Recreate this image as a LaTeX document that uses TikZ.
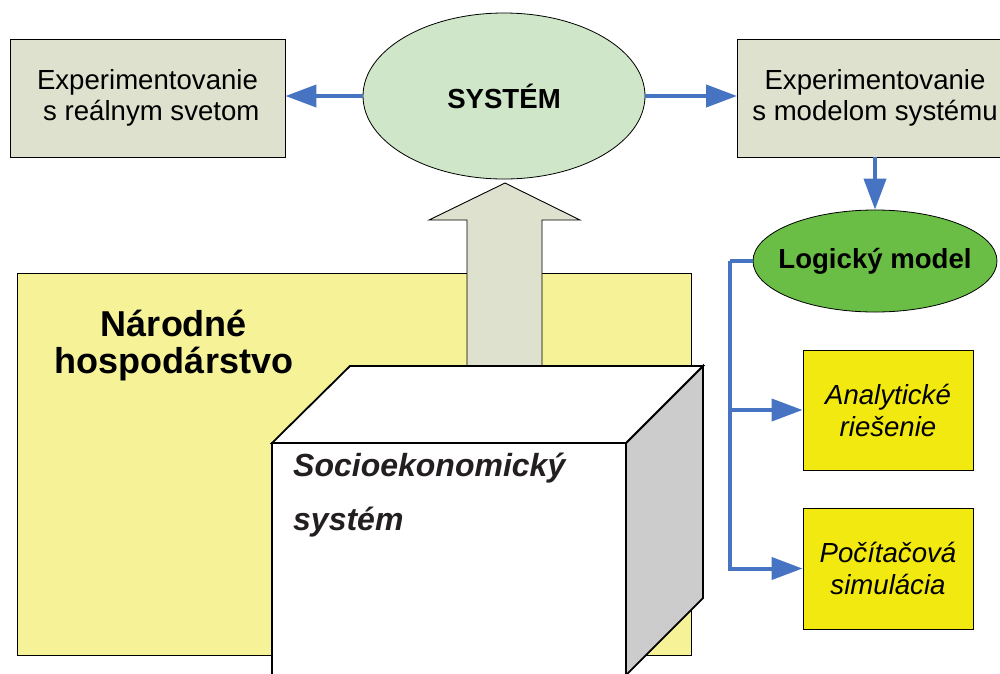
\documentclass[tikz,border=0pt]{standalone}
\usepackage{fontspec}
\setmainfont{Liberation Sans}
\usetikzlibrary{arrows.meta,shapes.geometric}

\definecolor{boxgray}{RGB}{222,225,206}
\definecolor{syslight}{RGB}{207,230,200}
\definecolor{logicgreen}{RGB}{106,189,69}
\definecolor{boxyellow}{RGB}{242,233,16}
\definecolor{paleyellow}{RGB}{246,242,152}
\definecolor{flowblue}{RGB}{70,116,194}
\definecolor{sidegray}{RGB}{204,204,204}
\definecolor{inktext}{RGB}{35,31,32}

\begin{document}
\begin{tikzpicture}[x=1pt,y=-1pt,
  txt/.style={font=\fontsize{27.6}{31.5}\selectfont, align=center, inner sep=0pt},
  greybox/.style={draw=black, line width=0.9pt, fill=boxgray,
    minimum width=275pt, minimum height=118pt, txt},
  ybox/.style={draw=black, line width=0.9pt, fill=boxyellow,
    minimum width=170pt, minimum height=120pt, align=center, inner sep=0pt,
    font=\fontsize{27.6}{32}\selectfont\itshape},
  oval/.style={ellipse, draw=black, line width=0.8pt, inner sep=0pt},
  ovaltext/.style={inner sep=0pt, font=\fontsize{27.6}{32}\selectfont\bfseries},
  flow/.style={draw=flowblue, line width=4pt, -{Triangle[length=31pt,width=22pt]}},
  flowline/.style={draw=flowblue, line width=4pt},
  cubeedge/.style={draw=black, line width=1.8pt, line join=miter},
]
\useasboundingbox (0,0) rectangle (1000,673);

% top row: experiments around the system
\node[greybox] (real) at (147.5,98) {Experimentovanie\\ \ s reálnym svetom};
\node[greybox] (model) at (875,98) {Experimentovanie\\ s modelom systému};
\node[oval, fill=syslight, minimum width=282pt, minimum height=166pt] (sys) at (504,96) {};
\node[ovaltext] (systxt) at (sys) {SYSTÉM};

\draw[flow] (sys.west) -- (sys.west -| real.east);
\draw[flow] (sys.east) -- (sys.east -| model.west);

% model branch
\node[oval, fill=logicgreen, minimum width=244pt, minimum height=102pt] (logic) at (875,261) {};
\node[ovaltext] (logictxt) at (logic) {Logický model};
\draw[flow] (model.south) -- (logic.north);

\node[ybox] (ana) at (888,410) {Analytické\\riešenie};
\node[ybox, minimum height=121pt] (poc) at (888,568.5) {Počítačová\\simulácia};

\coordinate (bend) at (730,261);
\draw[flowline] (logic.west) -- (bend);
\draw[flow] (bend) |- (ana.west);
\draw[flow] (bend) |- (poc.west);

% national economy
\node[draw=black, line width=0.9pt, fill=paleyellow, minimum width=674pt,
  minimum height=382pt, inner sep=0pt] (economy) at (354,464) {};
\node[align=center, inner sep=0pt, font=\fontsize{36}{37}\selectfont\bfseries]
  (nh) at (174,345.5) {Národné\\hospodárstvo};

% abstraction arrow up to the system
\draw[line width=0.9pt, fill=boxgray]
  (505,183) -- (580,220) -- (542,220) -- (542,372) -- (467,372) -- (467,220)
  -- (429,220) -- cycle;

% socio-economic system block
\draw[cubeedge, fill=sidegray] (626,443) -- (703,366) -- (703,598) -- (626,675) -- cycle;
\draw[cubeedge, fill=white] (272,443) -- (350,366) -- (703,366) -- (626,443) -- cycle;
\draw[cubeedge, fill=white] (272,443) rectangle (626,680);
\node[anchor=west, align=left, inner sep=0pt, text=inktext,
  font=\fontsize{32}{54}\selectfont\bfseries\itshape]
  (soc) at (293,495) {Socioekonomický\\systém};
\end{tikzpicture}
\end{document}
